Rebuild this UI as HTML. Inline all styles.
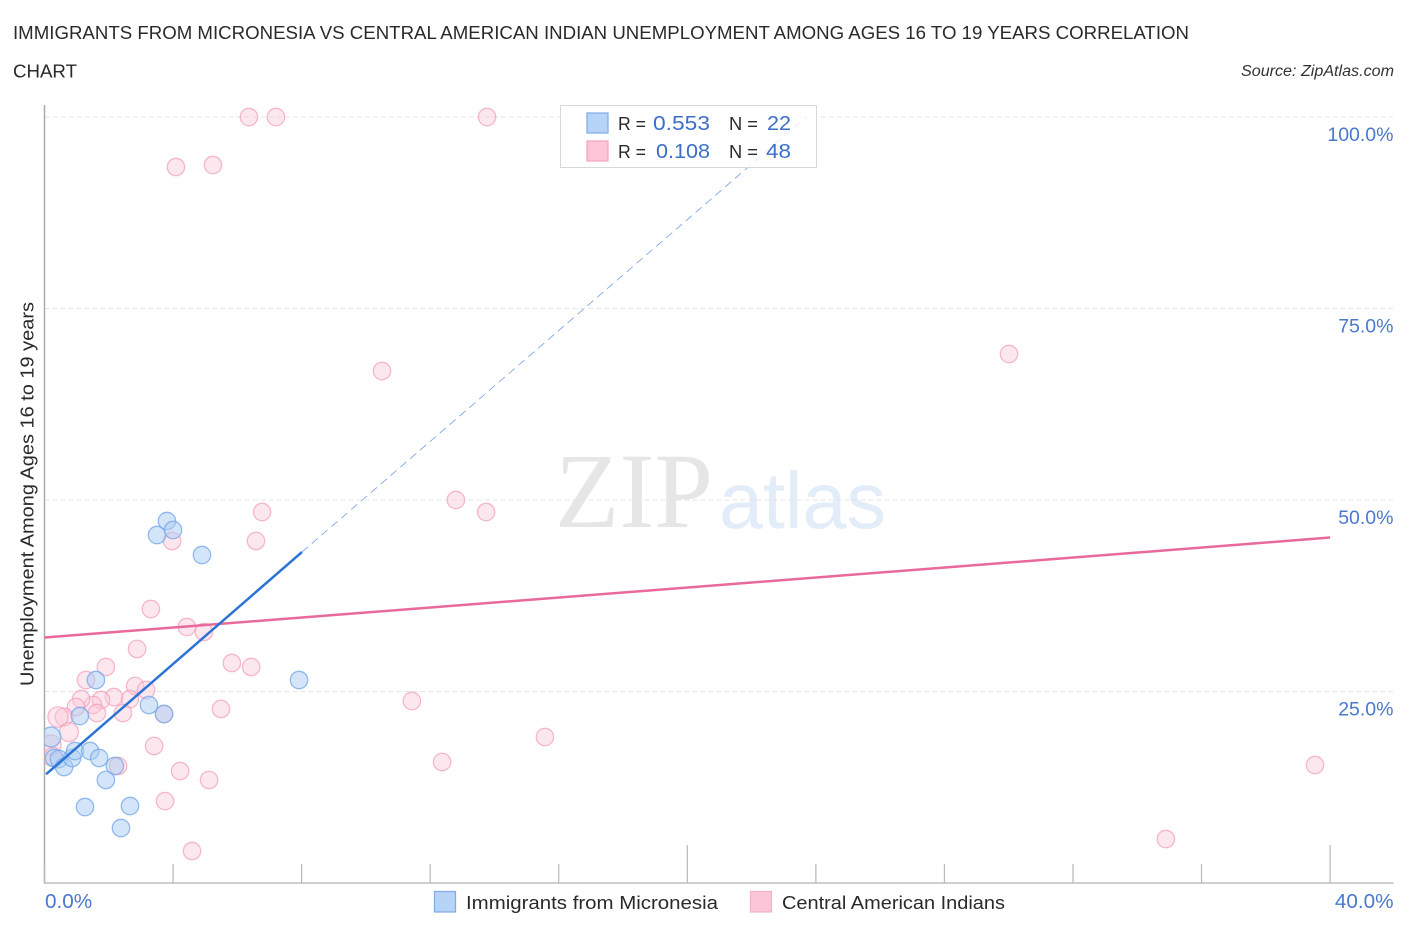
<!DOCTYPE html>
<html lang="en">
<head>
<meta charset="utf-8">
<title>Immigrants from Micronesia vs Central American Indian Unemployment Correlation Chart</title>
<style>
html,body{margin:0;padding:0;background:#fff;width:1406px;height:930px;overflow:hidden}
svg{display:block}
text{font-family:"Liberation Sans",sans-serif}
</style>
</head>
<body>
<svg id="chart" xmlns="http://www.w3.org/2000/svg" width="1406" height="930" viewBox="0 0 1406 930">
  <defs>
    <clipPath id="plot-clip"><rect x="44.5" y="100" width="1350" height="783"/></clipPath>
  </defs>
  <rect x="0" y="0" width="1406" height="930" fill="#ffffff"/>

  <text x="13" y="39" font-size="18.5" fill="#2a2a2a" textLength="1176" lengthAdjust="spacingAndGlyphs">IMMIGRANTS FROM MICRONESIA VS CENTRAL AMERICAN INDIAN UNEMPLOYMENT AMONG AGES 16 TO 19 YEARS CORRELATION</text>
  <text x="13" y="77.5" font-size="18.5" fill="#2a2a2a" textLength="64" lengthAdjust="spacingAndGlyphs">CHART</text>
  <text x="1394" y="76" font-size="15.5" font-style="italic" fill="#333333" text-anchor="end" textLength="153" lengthAdjust="spacingAndGlyphs">Source: ZipAtlas.com</text>

  <g>
    <text x="555" y="527" font-size="107" fill="#e6e6e6" textLength="158" lengthAdjust="spacingAndGlyphs" style="font-family:'Liberation Serif',serif">ZIP</text>
    <text x="719" y="528" font-size="80" fill="#e3edf9" textLength="167" lengthAdjust="spacingAndGlyphs">atlas</text>
  </g>

  <g id="grid-layer"></g>
  <g id="axis-layer"></g>
  <g id="label-layer"></g>
  <g id="pink-layer" clip-path="url(#plot-clip)"></g>
  <g id="blue-layer" clip-path="url(#plot-clip)"></g>
  <g id="trend-layer"></g>

  <text transform="translate(33.5,686) rotate(-90)" x="0" y="0" font-size="18" fill="#2a2a2a" textLength="384" lengthAdjust="spacingAndGlyphs">Unemployment Among Ages 16 to 19 years</text>

  <g>
    <rect x="560.5" y="105.5" width="256" height="62" fill="#ffffff" fill-opacity="0.8" stroke="#d8d8d8" stroke-width="1"/>
    <rect x="587" y="113" width="21" height="20" fill="#b7d3f6" stroke="#7fabe6" stroke-width="1.2"/>
    <rect x="587" y="141" width="21" height="20" fill="#fcc6d8" stroke="#f0a3bd" stroke-width="1.2"/>
    <text x="618" y="130" font-size="18" fill="#2a2a2a" textLength="28" lengthAdjust="spacingAndGlyphs">R =</text>
    <text x="710" y="130" font-size="20.5" fill="#3b6fc9" text-anchor="end" textLength="57" lengthAdjust="spacingAndGlyphs">0.553</text>
    <text x="729" y="130" font-size="18" fill="#2a2a2a" textLength="29" lengthAdjust="spacingAndGlyphs">N =</text>
    <text x="791" y="130" font-size="20.5" fill="#3b6fc9" text-anchor="end" textLength="24" lengthAdjust="spacingAndGlyphs">22</text>
    <text x="618" y="158" font-size="18" fill="#2a2a2a" textLength="28" lengthAdjust="spacingAndGlyphs">R =</text>
    <text x="710" y="158" font-size="20.5" fill="#3b6fc9" text-anchor="end" textLength="54" lengthAdjust="spacingAndGlyphs">0.108</text>
    <text x="729" y="158" font-size="18" fill="#2a2a2a" textLength="29" lengthAdjust="spacingAndGlyphs">N =</text>
    <text x="791" y="158" font-size="20.5" fill="#3b6fc9" text-anchor="end" textLength="25" lengthAdjust="spacingAndGlyphs">48</text>
  </g>

  <g>
    <rect x="434.5" y="891.5" width="21" height="20.5" fill="#b7d3f6" stroke="#7fabe6" stroke-width="1.2"/>
    <text x="466" y="909" font-size="18.5" fill="#2a2a2a" textLength="252" lengthAdjust="spacingAndGlyphs">Immigrants from Micronesia</text>
    <rect x="750.5" y="891.5" width="21" height="20.5" fill="#fcc6d8" stroke="#f0b3c8" stroke-width="1.2"/>
    <text x="782" y="909" font-size="18.5" fill="#2a2a2a" textLength="223" lengthAdjust="spacingAndGlyphs">Central American Indians</text>
  </g>
</svg>

<script>
// Series values (x = percent of Immigrants from Micronesia, y = unemployment rate, w = relative bubble weight)
const microX = [0.20,0.30,0.45,0.61,0.86,0.95,1.42,1.70,2.19,1.91,1.26,2.66,2.38,1.10,1.60,3.25,3.72,7.92,4.90,3.50,3.81,4.00];
const microY = [19.06,16.32,16.19,15.14,16.32,17.23,17.23,16.32,15.27,13.45,9.92,10.05,7.18,21.80,26.50,23.24,22.06,26.50,42.82,45.43,47.26,46.08];
const microW = [1.3,1,1,1,1,1,1,1,1,1,1,1,1,1,1,1,1,1,1,1,1,1];

const centralX = [6.36,7.20,13.77,4.09,5.24,30.01,10.50,6.77,12.80,13.74,6.58,3.97,3.31,4.43,4.96,2.88,1.91,1.29,2.82,3.16,2.66,2.16,1.76,1.51,1.14,0.98,1.63,2.44,0.61,0.42,0.76,3.41,2.29,4.22,5.12,3.75,4.59,3.72,5.83,6.43,5.49,11.43,15.57,12.37,39.53,34.89,0.20,0.26];
const centralY = [100,100,100,93.47,93.73,69.06,66.84,48.43,50,48.43,44.65,44.65,35.77,33.42,32.77,30.55,28.20,26.50,25.72,25.20,24.02,24.28,23.89,23.24,24.02,22.98,22.19,22.19,21.67,21.67,19.71,17.89,15.27,14.62,13.45,10.70,4.18,22.06,28.72,28.20,22.72,23.76,19.06,15.80,15.40,5.74,18.02,16.45];
const centralW = [1,1,1,1,1,1,1,1,1,1,1,1,1,1,1,1,1,1,1,1,1,1,1,1,1,1,1,1,1.05,1.35,1.2,1,1,1,1,1,1,1,1,1,1,1,1,1,1,1,1.35,1.2];

// Trend lines: [start, end] values in data units
const microSolidX = [0.05,8.01];
const microSolidY = [14.2,43.2];
const microDashX = [8.01,23.7];
const microDashY = [43.2,100];
const centralTrendX = [0,40];
const centralTrendY = [32.05,45.1];

// Axis ticks and labels
const xMinorTicks = [0,4,8,12,16,24,28,32,36];
const xMajorTicks = [20,40];
const yGridValues = [100,75,50,25];
const yTickLabels = ["100.0%","75.0%","50.0%","25.0%"];
const xEndValues = [0,40];
const xEndLabels = ["0.0%","40.0%"];

const NS = "http://www.w3.org/2000/svg";
const sx = v => 44.5 + v * 32.14;
const sy = v => 883 - v * 7.66;
const rScale = w => 8.7 * Math.sqrt(w);

function make(parent, tag, attrs, txt){
  const el = document.createElementNS(NS, tag);
  for (const k in attrs) el.setAttribute(k, attrs[k]);
  if (txt !== undefined) el.textContent = txt;
  document.getElementById(parent).appendChild(el);
  return el;
}

yGridValues.forEach(function(v, i){
  const grid = make("grid-layer", "line", {x1:44.5, x2:1393, y1:sy(v), y2:sy(v), stroke:"#e4e4e4", "stroke-width":1, "stroke-dasharray":"5 3"});
  
  
  const label = make("label-layer", "text", {x:1393.5, y:sy(v) + 24, "font-size":19.5, fill:"#4a78cc", "text-anchor":"end"}, yTickLabels[i]);
  
  
});

const yAxisLine = make("axis-layer", "line", {x1:44.5, x2:44.5, y1:105, y2:883.5, stroke:"#ababab", "stroke-width":1.5});


const xAxisLine = make("axis-layer", "line", {x1:44, x2:1393.5, y1:883, y2:883, stroke:"#bdbdbd", "stroke-width":1.5});



xMinorTicks.forEach(function(v){
  const tick = make("axis-layer", "line", {x1:sx(v), x2:sx(v), y1:864, y2:883, stroke:"#b8b8b8", "stroke-width":1.2});
  
  
});
xMajorTicks.forEach(function(v){
  const tick = make("axis-layer", "line", {x1:sx(v), x2:sx(v), y1:845, y2:883, stroke:"#b8b8b8", "stroke-width":1.2});
  
  
});
xEndValues.forEach(function(v, i){
  const attrs = i === 0
    ? {x:sx(v) + 0.5, y:908, "font-size":20.7, fill:"#4a78cc"}
    : {x:1393.5, y:908, "font-size":20.7, fill:"#4a78cc", "text-anchor":"end"};
  const label = make("label-layer", "text", attrs, xEndLabels[i]);
  
  
});

centralX.forEach(function(v, i){
  const c = make("pink-layer", "circle", {cx:sx(v), cy:sy(centralY[i]), r:rScale(centralW[i]), fill:"#fbc5d7", "fill-opacity":0.42, stroke:"#ef9db8", "stroke-opacity":0.7, "stroke-width":1.3});
  
  
});
microX.forEach(function(v, i){
  const c = make("blue-layer", "circle", {cx:sx(v), cy:sy(microY[i]), r:rScale(microW[i]), fill:"#a9cbf4", "fill-opacity":0.5, stroke:"#78aae8", "stroke-opacity":0.8, "stroke-width":1.3});
  
  
});

const microDash = make("trend-layer", "line", {x1:sx(microDashX[0]), y1:sy(microDashY[0]), x2:sx(microDashX[1]), y2:sy(microDashY[1]), stroke:"#4f88da", "stroke-width":0.8, "stroke-dasharray":"8 5", "stroke-opacity":0.8});


const centralTrend = make("trend-layer", "line", {x1:sx(centralTrendX[0]), y1:sy(centralTrendY[0]), x2:sx(centralTrendX[1]), y2:sy(centralTrendY[1]), stroke:"#e8699a", "stroke-width":2.5});


const microSolid = make("trend-layer", "line", {x1:sx(microSolidX[0]), y1:sy(microSolidY[0]), x2:sx(microSolidX[1]), y2:sy(microSolidY[1]), stroke:"#2b73d6", "stroke-width":2.5});


</script>
</body>
</html>
